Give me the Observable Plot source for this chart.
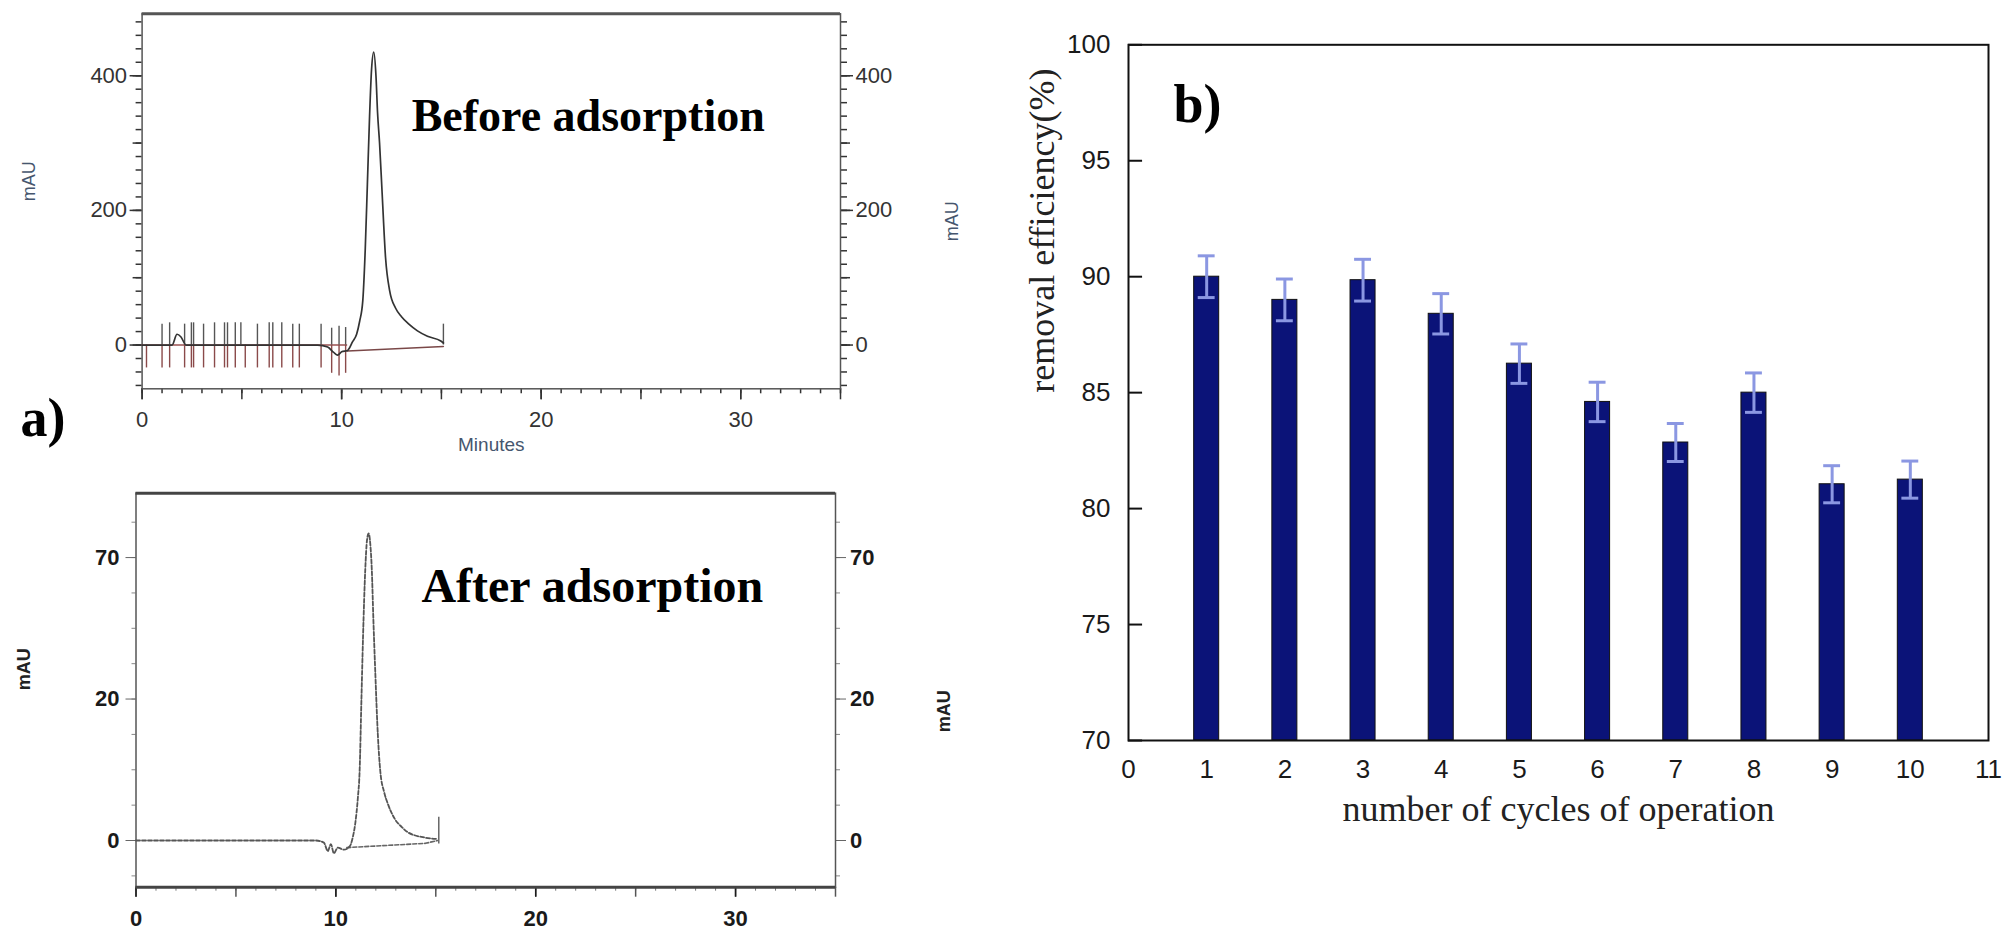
<!DOCTYPE html>
<html><head><meta charset="utf-8">
<script src="https://cdn.jsdelivr.net/npm/d3@7"></script>
<script src="https://cdn.jsdelivr.net/npm/@observablehq/plot@0.6"></script>
<style>
body{margin:0;background:#fff;}
#wrap{position:relative;width:2008px;height:940px;overflow:hidden;background:#fff;}
#wrap svg{position:absolute;max-width:none !important;}
</style></head><body><div id="wrap"></div>
<script>
const SANS = "'Liberation Sans', Arial, Helvetica, sans-serif";
const SERIF = "'Liberation Serif', 'Times New Roman', serif";

// ---------- a) Before adsorption chromatogram ----------
const beforeMinutes = [0, 1.5, 1.75, 1.95, 2.2, 8.8, 9.3, 9.6, 9.8, 10.0, 10.3, 10.55, 10.75, 10.9, 11.06, 11.18, 11.29, 11.4, 11.5, 11.61, 11.72, 11.8, 11.9, 12.03, 12.2, 12.41, 12.7, 13.0, 13.37, 13.8, 14.3, 14.97, 15.1];
const beforeMAU     = [0, 0, 16, 12, 0, 0, -3, -11, -15, -10, -8, 5, 16, 35, 66, 140, 239, 340, 410, 435, 400, 345, 300, 225, 130, 80, 55, 42, 31, 21, 13, 6, 3];
const markerMinutes = [0.22, 1.0, 1.38, 2.13, 2.47, 2.58, 3.08, 3.63, 4.13, 4.28, 4.67, 4.95, 5.17, 5.78, 6.37, 6.55, 7.0, 7.55, 7.88, 8.97, 9.5, 9.87, 10.2, 15.1];
const markerTop     = [0, 31, 33, 31, 33, 33, 31, 33, 33, 33, 33, 33, 0, 31, 33, 33, 33, 31, 31, 31, 25, 28, 26, 31];
const markerBottom  = [-34, -34, -34, -34, -34, -34, -34, -34, -34, -34, -34, 0, -34, -34, -34, -34, -34, -34, -34, -34, -42, -46, -42, 0];
const beforeBaseMinutes = [10.3, 15.1];
const beforeBaseMAU     = [-9, -2];
const beforeXTicks = [0, 10, 20, 30];
const beforeYTicks = [0, 200, 400];

// ---------- a) After adsorption chromatogram ----------
const afterMinutes = [0, 9.0, 9.4, 9.6, 9.75, 9.9, 10.1, 10.4, 10.7, 10.85, 10.97, 11.1, 11.19, 11.28, 11.36, 11.47, 11.56, 11.64, 11.72, 11.8, 11.88, 11.97, 12.1, 12.22, 12.42, 12.6, 12.96, 13.3, 13.58, 14.48, 15.1];
// signal in axis position units (tick positions 0, 20, 40 carry labels "0", "20", "70")
const afterMAU     = [0, 0, -0.3, -1.5, -0.5, -1.8, -1.0, -1.3, -0.8, 0.5, 2.4, 6, 9.9, 20, 28.8, 38.2, 42.5, 43.4, 42, 38.2, 31, 24, 15, 9.9, 6.8, 5.2, 3.0, 1.9, 1.2, 0.4, 0.2];
const afterBaseMinutes = [10.55, 14.48, 15.1];
const afterBaseMAU     = [-1.0, -0.4, 0];
const afterEndMinute = [15.15];
const afterEndRange = [-0.5, 3.3];
const afterXTicks = [0, 10, 20, 30];
const afterYTickValues = [0, 20, 40];
const afterYTickLabels = ["0", "20", "70"];

// ---------- b) removal efficiency ----------
const cycles     = [1, 2, 3, 4, 5, 6, 7, 8, 9, 10];
const efficiency = [90.0, 89.0, 89.85, 88.4, 86.25, 84.6, 82.85, 85.0, 81.05, 81.25];
const errors     = [0.9, 0.9, 0.9, 0.87, 0.85, 0.85, 0.82, 0.85, 0.8, 0.8];
const cycleTicks = [0, 1, 2, 3, 4, 5, 6, 7, 8, 9, 10, 11];
const effTicks   = [70, 75, 80, 85, 90, 95, 100];

const before = beforeMinutes.map((t, i) => ({t, v: beforeMAU[i]}));
const markers = markerMinutes.map((t, i) => ({t, top: markerTop[i], bottom: markerBottom[i]}));
const beforeBase = beforeBaseMinutes.map((t, i) => ({t, v: beforeBaseMAU[i]}));
const after = afterMinutes.map((t, i) => ({t, v: afterMAU[i]}));
const afterBase = afterBaseMinutes.map((t, i) => ({t, v: afterBaseMAU[i]}));
const bars = cycles.map((c, i) => ({c, v: efficiency[i], e: errors[i]}));

const wrap = document.getElementById("wrap");
function place(el, left, top) { el.style.left = left + "px"; el.style.top = top + "px"; wrap.appendChild(el); }

const blank = () => "";

// ---- top chromatogram ----
const topPlot = Plot.plot({
  width: 1000, height: 470,
  marginLeft: 141.6, marginRight: 160, marginTop: 13.3, marginBottom: 81.7,
  x: {domain: [0, 35]},
  y: {domain: [-65, 492]},
  style: {fontFamily: SANS, fontSize: "22px", color: "#333", background: "transparent", overflow: "visible"},
  marks: [
    Plot.axisX({ticks: d3.range(0, 36, 1), tickSize: 5, tickFormat: blank, label: null, strokeWidth: 1.5}),
    Plot.axisX({ticks: d3.range(0, 36, 5), tickSize: 11, tickFormat: blank, label: null, strokeWidth: 1.5}),
    Plot.axisX({ticks: beforeXTicks, tickSize: 11, tickPadding: 12, label: null, strokeWidth: 1.5}),
    ...["left", "right"].flatMap(anchor => [
      Plot.axisY({anchor, ticks: d3.range(-60, 481, 20), tickSize: 6, tickFormat: blank, label: null, strokeWidth: 1.5}),
      Plot.axisY({anchor, ticks: d3.range(0, 401, 100), tickSize: 9, tickFormat: blank, label: null, strokeWidth: 1.5}),
      Plot.axisY({anchor, ticks: beforeYTicks, tickSize: 12, tickPadding: 3, label: null, strokeWidth: 1.5})
    ]),
    Plot.frame({stroke: "#555", strokeWidth: 1.5}),
    Plot.ruleY([492], {stroke: "#555", strokeWidth: 3}),
    Plot.ruleY([0], {x1: 0, x2: 10.3, stroke: "#9a5050", strokeWidth: 1.5}),
    Plot.ruleX(markers, {x: "t", y1: "bottom", y2: 0, stroke: "#8a4a4a", strokeWidth: 1.4}),
    Plot.ruleX(markers, {x: "t", y1: 0, y2: "top", stroke: "#555", strokeWidth: 1.4}),
    Plot.line(beforeBase, {x: "t", y: "v", stroke: "#7a4848", strokeWidth: 1.5}),
    Plot.line(before, {x: "t", y: "v", stroke: "#333", strokeWidth: 1.7, curve: "monotone-x"}),
    Plot.text(["Before adsorption"], {x: 13.51, y: 318, text: d => d, textAnchor: "start", lineAnchor: "bottom", fontFamily: SERIF, fontWeight: "bold", fontSize: 46, fill: "#000"}),
    Plot.text(["Minutes"], {frameAnchor: "bottom", dy: 61.7, text: d => d, fontSize: 19, fill: "#46566e"}),
    Plot.text(["mAU"], {frameAnchor: "left", dx: -112.6, rotate: -90, text: d => d, fontSize: 18, fill: "#46566e"}),
    Plot.text(["mAU"], {frameAnchor: "right", dx: 111.7, rotate: -90, text: d => d, fontSize: 18, fill: "#46566e"}),
    Plot.text(["a)"], {frameAnchor: "bottom-left", dx: -121.6, dy: 46.7, text: d => d, textAnchor: "start", lineAnchor: "bottom", fontFamily: SERIF, fontWeight: "bold", fontSize: 54, fill: "#000"})
  ]
});
place(topPlot, 0, 0);

// ---- bottom chromatogram ----
const afterFmt = v => afterYTickLabels[afterYTickValues.indexOf(v)];
const botPlot = Plot.plot({
  width: 1000, height: 470,
  marginLeft: 135.5, marginRight: 165, marginTop: 22.7, marginBottom: 53.3,
  x: {domain: [0, 35]},
  y: {domain: [-6.6, 49.1]},
  style: {fontFamily: SANS, fontSize: "22px", fontWeight: "bold", color: "#1a1a1a", background: "transparent", overflow: "visible"},
  marks: [
    Plot.axisX({ticks: d3.range(0, 36, 1), tickSize: 4, tickFormat: blank, label: null, stroke: "#777"}),
    Plot.axisX({ticks: d3.range(0, 36, 5), tickSize: 10, tickFormat: blank, label: null, stroke: "#555", strokeWidth: 1.5}),
    Plot.axisX({ticks: afterXTicks, tickSize: 10, tickPadding: 13, label: null, fontWeight: "bold", strokeWidth: 1.5}),
    ...["left", "right"].flatMap(anchor => [
      Plot.axisY({anchor, ticks: d3.range(-5, 49, 5), tickSize: 4, tickFormat: blank, label: null, stroke: "#888"}),
      Plot.axisY({anchor, ticks: afterYTickValues, tickSize: 10, tickPadding: anchor === "left" ? 6.5 : 4.5, tickFormat: afterFmt, label: null, fontWeight: "bold", stroke: "#666"})
    ]),
    Plot.frame({stroke: "#555", strokeWidth: 1.5}),
    Plot.ruleY([49.1, -6.6], {stroke: "#444", strokeWidth: 3}),
    Plot.line(afterBase, {x: "t", y: "v", stroke: "#666", strokeWidth: 1.6, strokeDasharray: "4,2"}),
    Plot.ruleX(afterEndMinute, {y1: afterEndRange[0], y2: afterEndRange[1], stroke: "#666", strokeWidth: 1.5}),
    Plot.line(after, {x: "t", y: "v", stroke: "#555", strokeWidth: 1.8, strokeDasharray: "4,2", curve: "monotone-x"}),
    Plot.text(["After adsorption"], {x: 14.28, y: 33.7, text: d => d, textAnchor: "start", lineAnchor: "bottom", fontFamily: SERIF, fontWeight: "bold", fontSize: 48, fill: "#000"}),
    Plot.text(["mAU"], {frameAnchor: "left", dx: -111.5, rotate: -90, text: d => d, fontSize: 18, fontWeight: "bold", fill: "#222"}),
    Plot.text(["mAU"], {frameAnchor: "right", dx: 109, rotate: -90, text: d => d, fontSize: 18, fontWeight: "bold", fill: "#222"})
  ]
});
place(botPlot, 0, 470);

// ---- b) bar chart ----
const bPlot = Plot.plot({
  width: 1008, height: 940,
  marginLeft: 128, marginRight: 20, marginTop: 44.3, marginBottom: 200,
  x: {domain: [0, 11]},
  y: {domain: [70, 100]},
  style: {fontFamily: SANS, fontSize: "26px", color: "#1a1a1a", background: "transparent", overflow: "visible"},
  marks: [
    Plot.rectY(bars, {x1: d => d.c - 0.16, x2: d => d.c + 0.16, y1: 70, y2: "v", fill: "#0b1378", stroke: "#111", strokeWidth: 1}),
    Plot.ruleX(bars, {x: "c", y1: d => d.v - d.e, y2: d => d.v + d.e, stroke: "#8b97e2", strokeWidth: 3}),
    Plot.ruleY(bars, {y: d => d.v + d.e, x1: d => d.c - 0.108, x2: d => d.c + 0.108, stroke: "#8b97e2", strokeWidth: 3}),
    Plot.ruleY(bars, {y: d => d.v - d.e, x1: d => d.c - 0.108, x2: d => d.c + 0.108, stroke: "#8b97e2", strokeWidth: 3}),
    Plot.ruleY(effTicks, {x1: 0, x2: 0.18, stroke: "#111", strokeWidth: 2}),
    Plot.axisY({ticks: effTicks, tickSize: 0, tickPadding: 18, label: null}),
    Plot.axisX({ticks: cycleTicks, tickSize: 0, tickPadding: 18.7, label: null}),
    Plot.frame({stroke: "#111", strokeWidth: 2}),
    Plot.text(["b)"], {x: 0.575, y: 96.66, text: d => d, textAnchor: "start", lineAnchor: "bottom", fontFamily: SERIF, fontWeight: "bold", fontSize: 54, fill: "#000"}),
    Plot.text(["number of cycles of operation"], {frameAnchor: "bottom", dy: 80, text: d => d, fontFamily: SERIF, fontSize: 36, fill: "#222"}),
    Plot.text(["removal efficiency(%)"], {frameAnchor: "left", dx: -86, rotate: -90, text: d => d, fontFamily: SERIF, fontSize: 36, fill: "#222"})
  ]
});
place(bPlot, 1000, 0);
</script></body></html>
